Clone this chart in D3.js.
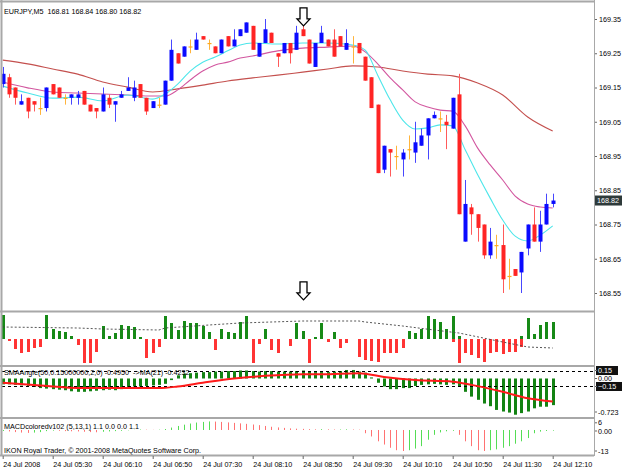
<!DOCTYPE html>
<html>
<head>
<meta charset="utf-8">
<script src="https://cdn.jsdelivr.net/npm/d3@7"></script>
<style>
  body { margin: 0; background: #fff; }
  text { font-family: "Liberation Sans", Arial, sans-serif; font-size: 7.2px; fill: #000; }
</style>
</head>
<body>
<div id="chart"></div>
<script>
// EURJPY M5 bars, 24 Jul 2008 04:50 .. 12:10 (index 0..88)
const opens  = [169.16,169.18,169.15,169.10,169.12,169.11,169.09,169.09,169.16,169.15,
                169.12,169.12,169.12,169.14,169.10,169.09,169.08,169.12,169.10,169.12,
                169.14,169.12,169.16,169.12,169.09,169.10,169.10,169.17,169.25,169.24,
                169.27,169.26,169.30,169.28,169.27,169.25,169.30,169.27,169.30,169.31,
                169.33,169.24,169.28,169.31,169.25,169.25,169.28,169.26,169.32,169.29,
                169.21,169.28,169.29,169.29,169.30,169.26,169.27,169.28,169.24,169.18,
                169.10,168.91,168.97,168.95,168.94,168.97,168.96,168.98,169.01,169.06,
                169.06,169.05,169.03,169.13,168.70,168.80,168.78,168.75,168.66,168.69,
                168.69,168.60,168.62,168.61,168.68,168.75,168.70,168.75,168.81];
const highs  = [169.21,169.19,169.15,169.13,169.12,169.11,169.12,169.15,169.16,169.15,
                169.13,169.13,169.14,169.14,169.10,169.09,169.15,169.13,169.11,169.14,
                169.18,169.17,169.16,169.12,169.11,169.12,169.17,169.29,169.25,169.27,
                169.29,169.31,169.30,169.29,169.27,169.29,169.30,169.32,169.32,169.34,
                169.33,169.28,169.35,169.31,169.25,169.28,169.28,169.33,169.34,169.29,
                169.28,169.33,169.29,169.32,169.30,169.32,169.30,169.28,169.24,169.18,
                169.10,168.98,168.97,168.98,168.97,169.01,169.05,169.03,169.06,169.08,
                169.08,169.07,169.12,169.19,168.88,168.81,168.78,168.75,168.74,168.72,
                168.75,168.65,168.62,168.67,168.75,168.80,168.79,168.84,168.84];
const lows   = [169.15,169.12,169.10,169.10,169.06,169.08,169.07,169.08,169.13,169.12,
                169.10,169.10,169.10,169.10,169.08,169.06,169.08,169.09,169.05,169.12,
                169.14,169.11,169.12,169.07,169.09,169.09,169.10,169.17,169.22,169.24,
                169.25,169.26,169.29,169.26,169.25,169.25,169.27,169.27,169.30,169.31,
                169.26,169.24,169.28,169.28,169.21,169.25,169.22,169.26,169.30,169.22,
                169.21,169.28,169.27,169.24,169.27,169.26,169.22,169.25,169.17,169.09,
                168.90,168.90,168.89,168.91,168.89,168.94,168.93,168.98,168.94,169.06,
                169.02,168.97,169.03,168.78,168.70,168.72,168.70,168.65,168.65,168.65,
                168.55,168.56,168.60,168.55,168.66,168.70,168.67,168.75,168.80];
const closes = [169.19,169.13,169.12,169.11,169.08,169.10,169.09,169.15,169.13,169.12,
                169.12,169.13,169.13,169.10,169.08,169.08,169.13,169.10,169.11,169.13,
                169.15,169.15,169.12,169.08,169.11,169.10,169.17,169.26,169.22,169.27,
                169.27,169.29,169.29,169.28,169.25,169.29,169.27,169.29,169.32,169.34,
                169.26,169.28,169.32,169.28,169.24,169.28,169.25,169.31,169.30,169.22,
                169.28,169.31,169.27,169.24,169.27,169.28,169.27,169.25,169.17,169.09,
                168.90,168.98,168.96,168.95,168.96,168.97,168.99,169.01,169.06,169.07,
                169.06,169.04,169.12,168.78,168.81,168.78,168.74,168.66,168.70,168.69,
                168.59,168.60,168.60,168.67,168.75,168.70,168.75,168.81,168.82];

// moving averages at sample bars
const maIdx  = [0,4,8,12,16,20,24,26,28,30,32,34,36,38,40,44,48,52,56,58,60,62,64,66,68,70,72,74,76,78,80,82,84,86,88];
const fastMA = [169.154,169.134,169.119,169.122,169.111,169.128,169.116,169.131,169.160,169.198,
                169.224,169.239,169.257,169.274,169.280,169.277,169.280,169.280,169.274,169.259,
                169.186,169.114,169.055,169.029,169.032,169.041,169.038,168.968,168.895,168.827,
                168.763,168.716,168.702,168.719,168.746];
const midMA  = [169.166,169.149,169.137,169.134,169.131,169.128,169.125,169.125,169.143,169.172,
                169.198,169.216,169.224,169.236,169.242,169.257,169.265,169.268,169.271,169.254,
                169.219,169.178,169.143,169.108,169.093,169.084,169.081,169.038,168.973,168.924,
                168.880,168.833,168.810,168.801,168.798];
const slowIdx = [0,4,8,12,16,20,24,28,32,36,40,44,48,52,56,60,64,68,72,76,80,84,88];
const slowMA  = [169.230,169.219,169.204,169.189,169.166,169.151,169.137,169.146,169.157,169.169,
                 169.178,169.186,169.195,169.204,169.213,169.210,169.198,169.189,169.184,169.163,
                 169.128,169.064,169.023];

// signal arrows (bar index, tip price)
const arrowBar = 48;
const arrowTips = [169.33, 168.53];

const priceTicks = [169.35,169.25,169.15,169.05,168.95,168.85,168.75,168.65,168.55];
const lastPrice = 168.82;
const timeIdx = [0,8,16,24,32,40,48,56,64,72,80,88];
const timeLabels = ["24 Jul 2008","24 Jul 05:30","24 Jul 06:10","24 Jul 06:50","24 Jul 07:30","24 Jul 08:10",
                    "24 Jul 08:50","24 Jul 09:30","24 Jul 10:10","24 Jul 10:50","24 Jul 11:30","24 Jul 12:10"];

// panel 2 histogram (green up / red down) and dotted level
const histUp = [2.4,0,0,0,0,0,0,2.4,1.0,0.8, 0.7,0.3,0,0,0,0,1.3,0.3,0.6,1.4,
                1.3,1.2,0.2,0,0,0,2.3,1.6,0.9,1.8, 1.6,1.6,1.3,0.7,0,1.0,0.7,0.6,1.7,2.3,
                0,0,1.0,0,0,0,0,1.6,0.8,0, 0.2,1.6,0,0.7,0,0,0,0,0,0,
                0,0,0,0,0,0.8,0.6,1.0,2.3,2.0, 1.7,1.0,2.3,0.3,0,0,0,0,0,0,
                0,0,0,0.3,2.1,0.5,1.4,1.7,1.7];
const histDn = [0,-0.2,-1.0,-1.4,-1.3,-0.9,-0.8,0,0,0, 0,0,-0.6,-2.4,-2.4,-1.3,0,0,0,0,
                0,0,0,-1.9,-1.4,-0.8,0,0,0,0, 0,0,0,0,-1.1,0,0,0,0,0,
                -2.4,-0.5,0,-1.1,-1.4,0,-0.7,0,0,-2.4, 0,0,-0.3,0,-0.9,-0.4,0,-1.8,-2.1,-2.2,
                -2.3,-1.4,-1.4,-1.4,-0.9,0,0,0,0,0, 0,0,-0.3,-2.4,-1.4,-1.6,-1.9,-2.3,-1.4,-1.3,
                -1.5,-1.3,-1.3,-0.8,0,0,0,0,0];
const lvlIdx = [0,12,16,25,26,33,38,48,57,58,64,69,73,80,84,88];
const lvlVal = [1.2,1.1,1.0,0.9,1.1,1.4,1.6,1.8,1.8,1.7,1.3,0.9,0.6,-0.3,-0.8,-0.9];

// panel 3 SMAAngle histogram and its MA(21)
const angle = [-0.11,-0.11,-0.12,-0.13,-0.14,-0.16,-0.18,-0.19,-0.20,-0.21,
               -0.22,-0.24,-0.25,-0.25,-0.24,-0.23,-0.22,-0.21,-0.22,-0.20,
               -0.16,-0.15,-0.15,-0.14,-0.13,-0.12,-0.10,-0.03,0.06,0.09,
               0.10,0.11,0.12,0.12,0.13,0.13,0.14,0.14,0.15,0.15,
               0.14,0.13,0.14,0.14,0.13,0.13,0.13,0.14,0.15,0.13,
               0.12,0.12,0.12,0.13,0.14,0.16,0.16,0.13,0.11,0.02,
               -0.08,-0.15,-0.20,-0.20,-0.18,-0.18,-0.14,-0.12,-0.11,-0.10,
               -0.11,-0.12,-0.11,-0.15,-0.25,-0.34,-0.40,-0.47,-0.52,-0.59,
               -0.62,-0.64,-0.68,-0.65,-0.62,-0.56,-0.53,-0.53,-0.50];
const angMaIdx = [0,5,13,25,28,32,37,42,48,51,57,61,66,72,75,80,84,88];
const angMa    = [-0.08,-0.12,-0.18,-0.18,-0.15,-0.08,0.00,0.05,0.08,0.08,0.10,0.03,-0.03,-0.06,-0.12,-0.25,-0.37,-0.43];
const angTicks = [0.15, 0.00, -0.15, -0.723];

// panel 4 MACD histogram
const macd = [-0.6,-0.9,-1.3,-1.6,-1.8,-1.6,-1.3,-0.7,-0.4,-0.5,
              -0.7,-0.8,-0.9,-1.1,-1.3,-1.4,-1.1,-0.9,-0.7,-0.5,
              -0.2,0.1,0.3,0.2,0.1,0.2,0.6,1.5,2.5,3.3,
              4.0,4.6,5.0,5.3,5.2,5.0,4.7,4.4,4.1,3.8,
              3.4,3.0,2.5,2.0,1.6,1.3,1.0,0.8,0.7,0.5,
              0.4,0.5,0.4,0.3,0.3,0.4,0.3,0.2,-2.0,-4.0,
              -7.0,-9.0,-11.0,-12.5,-13.0,-12.5,-11.5,-10.0,-6.0,-3.0,
              -1.5,-0.8,-0.5,-3.0,-7.0,-10.0,-12.5,-13.0,-12.5,-12.0,
              -11.0,-10.0,-8.5,-7.0,-5.0,-2.0,-1.0,-0.6,-0.4];

const W = 625, H = 469, right = 594;

const svg = d3.select("#chart").append("svg")
    .attr("width", W)
    .attr("height", H);

svg.append("rect").attr("width", W).attr("height", H).attr("fill", "#fff");

// scales
const x = d3.scaleLinear().domain([0, 88]).range([2.7, 552.7]);
const y = d3.scaleLinear().domain([168.55, 169.35]).range([293, 19]);
const y2 = d3.scaleLinear().domain([-2.4, 2.4]).range([363, 315]);
const y3 = d3.scaleLinear().domain([-0.723, 0.216]).range([417, 367]);
const y4 = d3.scaleLinear().domain([-13, 6]).range([451, 420.3]);
const xc = i => Math.round(x(i));

// clip for main panel
svg.append("clipPath").attr("id", "mainClip")
    .append("rect").attr("x", 2).attr("y", 3).attr("width", right - 2).attr("height", 308);

const main = svg.append("g").attr("clip-path", "url(#mainClip)");

// moving averages
const maLine = (idx, vals) => d3.line()
    .x((d, k) => x(idx[k]))
    .y(d => y(d))
    .curve(d3.curveMonotoneX)(vals);

main.append("path").attr("d", maLine(slowIdx, slowMA))
    .attr("fill", "none").attr("stroke", "#c4504e").attr("stroke-width", 1.1);
main.append("path").attr("d", maLine(maIdx, midMA))
    .attr("fill", "none").attr("stroke", "#d2569f").attr("stroke-width", 1.1);
main.append("path").attr("d", maLine(maIdx, fastMA))
    .attr("fill", "none").attr("stroke", "#4de6ea").attr("stroke-width", 1.1);

// candles
const candles = d3.range(opens.length).map(i => ({ i, o: opens[i], h: highs[i], l: lows[i], c: closes[i] }));
const bodyCol = d => d.c > d.o ? "#0a0aff" : d.c < d.o ? "#ff2424" : "#ffaa1e";
const wickCol = d => d.c > d.o ? "#4747ff" : d.c < d.o ? "#ff5a5a" : "#ffb43c";

const cg = main.selectAll(".candle").data(candles).enter().append("g").attr("class", "candle");

cg.append("line")
    .attr("x1", d => xc(d.i) + 0.5).attr("x2", d => xc(d.i) + 0.5)
    .attr("y1", d => y(d.h)).attr("y2", d => y(d.l))
    .attr("stroke", wickCol).attr("stroke-width", 1);

cg.append("rect")
    .attr("x", d => xc(d.i) - 1.5)
    .attr("width", 4)
    .attr("y", d => y(Math.max(d.o, d.c)))
    .attr("height", d => Math.max(1.2, Math.abs(y(d.o) - y(d.c))))
    .attr("fill", bodyCol);

// arrows
const arrowPath = (cx, tip) =>
    `M${cx - 3.5},${tip - 18} H${cx + 3.5} V${tip - 7} H${cx + 6.5} L${cx},${tip} L${cx - 6.5},${tip - 7} H${cx - 3.5} Z`;
arrowTips.forEach(p => {
    main.append("path")
        .attr("d", arrowPath(xc(arrowBar) + 0.5, y(p)))
        .attr("fill", "#fff").attr("stroke", "#000").attr("stroke-width", 1.3);
});

// price axis
const yAxis = svg.append("g")
    .attr("transform", `translate(${right},0)`)
    .call(d3.axisRight(y).tickValues(priceTicks).tickSize(3).tickFormat(d3.format(".2f")));
yAxis.select(".domain").remove();
yAxis.selectAll("line").attr("stroke", "#666");
yAxis.selectAll("text").attr("x", 5);

// last price box
svg.append("rect").attr("x", right + 1).attr("y", y(lastPrice) - 5)
    .attr("width", 27).attr("height", 10).attr("fill", "#2e3a3a");
svg.append("text").attr("x", right + 3).attr("y", y(lastPrice)).attr("dy", "0.35em")
    .style("fill", "#fff").text(d3.format(".2f")(lastPrice));

// panel 2
const p2 = svg.append("g");
p2.selectAll(".up").data(histUp).enter().append("rect")
    .attr("x", (d, i) => xc(i) - 1).attr("width", 3)
    .attr("y", d => y2(d)).attr("height", d => y2(0) - y2(d))
    .attr("fill", "#178a17");
p2.selectAll(".dn").data(histDn).enter().append("rect")
    .attr("x", (d, i) => xc(i) - 1).attr("width", 3)
    .attr("y", y2(0)).attr("height", d => y2(d) - y2(0))
    .attr("fill", "#ff3434");
p2.append("path")
    .attr("d", d3.line().x((d, k) => x(lvlIdx[k])).y(d => y2(d))(lvlVal))
    .attr("fill", "none").attr("stroke", "#444").attr("stroke-width", 0.9)
    .attr("stroke-dasharray", "2,2");

// panel 3
const p3 = svg.append("g");
p3.selectAll(".ang").data(angle).enter().append("rect")
    .attr("x", (d, i) => xc(i) - 1).attr("width", 3)
    .attr("y", d => Math.min(y3(d), y3(0)))
    .attr("height", d => Math.abs(y3(d) - y3(0)))
    .attr("fill", "#138313");
[0.15, -0.15].forEach(v => {
    p3.append("line").attr("x1", 2).attr("x2", right)
        .attr("y1", Math.round(y3(v)) + 0.5).attr("y2", Math.round(y3(v)) + 0.5)
        .attr("stroke", "#000").attr("stroke-width", 1).attr("stroke-dasharray", "3,3");
});
p3.append("path")
    .attr("d", d3.line().x((d, k) => x(angMaIdx[k])).y(d => y3(d)).curve(d3.curveMonotoneX)(angMa))
    .attr("fill", "none").attr("stroke", "#ff1a1a").attr("stroke-width", 2);

p3.append("text").attr("x", 4).attr("y", 374.5).style("white-space", "pre")
    .text("SMAAngle(50,0.15000000,2,0) -0.4950  ->MA(21) -0.4232");

angTicks.forEach(v => {
    const boxed = Math.abs(v) === 0.15;
    const ty = v === -0.723 ? y3(v) - 5 : y3(v);
    const label = v === -0.723 ? "-0.723" : d3.format(".2f")(v);
    if (boxed) {
        svg.append("rect").attr("x", right + 2).attr("y", ty - 4.5)
            .attr("width", v < 0 ? 26 : 22).attr("height", 9).attr("fill", "#111");
    }
    svg.append("line").attr("x1", right).attr("x2", right + 3).attr("y1", ty).attr("y2", ty).attr("stroke", "#666");
    svg.append("text").attr("x", right + 4).attr("y", ty).attr("dy", "0.35em")
        .style("fill", boxed ? "#fff" : "#000").text(label);
});

// panel 4
const p4 = svg.append("g");
p4.selectAll(".macd").data(macd).enter().append("line")
    .attr("x1", (d, i) => xc(i) + 0.5).attr("x2", (d, i) => xc(i) + 0.5)
    .attr("y1", y4(0)).attr("y2", d => y4(d))
    .attr("stroke", (d, i) => (i > 0 && d < macd[i - 1]) ? "#ff7272" : "#55dd55")
    .attr("stroke-width", 1);

p4.append("text").attr("x", 4).attr("y", 428.5)
    .text("MACDcoloredv102 (5,13,1) 1.1 0.0 0.0 1.1");
p4.append("text").attr("x", 4).attr("y", 452.5)
    .text("IKON Royal Trader, \u00a9 2001-2008 MetaQuotes Software Corp.");

// max / zero / min labels of the MACD window (max label sits just under the top edge)
[[y4(6) + 2.5, "6"], [y4(0) + 1, "0.00"], [y4(-13), "-13"]].forEach(t => {
    svg.append("line").attr("x1", right).attr("x2", right + 3).attr("y1", t[0]).attr("y2", t[0]).attr("stroke", "#666");
    svg.append("text").attr("x", right + 4).attr("y", t[0]).attr("dy", "0.35em").text(t[1]);
});

// frames and separators
const frame = svg.append("g").attr("fill", "none").attr("stroke", "#a8a8a8");
frame.append("line").attr("x1", 0).attr("x2", right).attr("y1", 1.5).attr("y2", 1.5).attr("stroke-width", 2);
frame.append("line").attr("x1", 1.5).attr("x2", 1.5).attr("y1", 0).attr("y2", 456).attr("stroke-width", 2);
frame.append("line").attr("x1", right + 0.5).attr("x2", right + 0.5).attr("y1", 0).attr("y2", 456);
[311.5, 366, 418, 455.5].forEach(yy => {
    frame.append("line").attr("x1", 0).attr("x2", right).attr("y1", yy).attr("y2", yy).attr("stroke-width", 2);
});

// title
svg.append("text").attr("x", 4).attr("y", 13.5).style("white-space", "pre")
    .text("EURJPY,M5  168.81 168.84 168.80 168.82");

// time axis
const xAxis = svg.append("g")
    .attr("transform", "translate(0,456)")
    .call(d3.axisBottom(x).tickValues(timeIdx).tickSize(3).tickFormat((d, k) => timeLabels[k]));
xAxis.select(".domain").remove();
xAxis.selectAll("line").attr("stroke", "#666");
xAxis.selectAll("text").attr("text-anchor", "start").attr("x", 0).attr("y", 6).attr("dy", "0.71em");
</script>
</body>
</html>
